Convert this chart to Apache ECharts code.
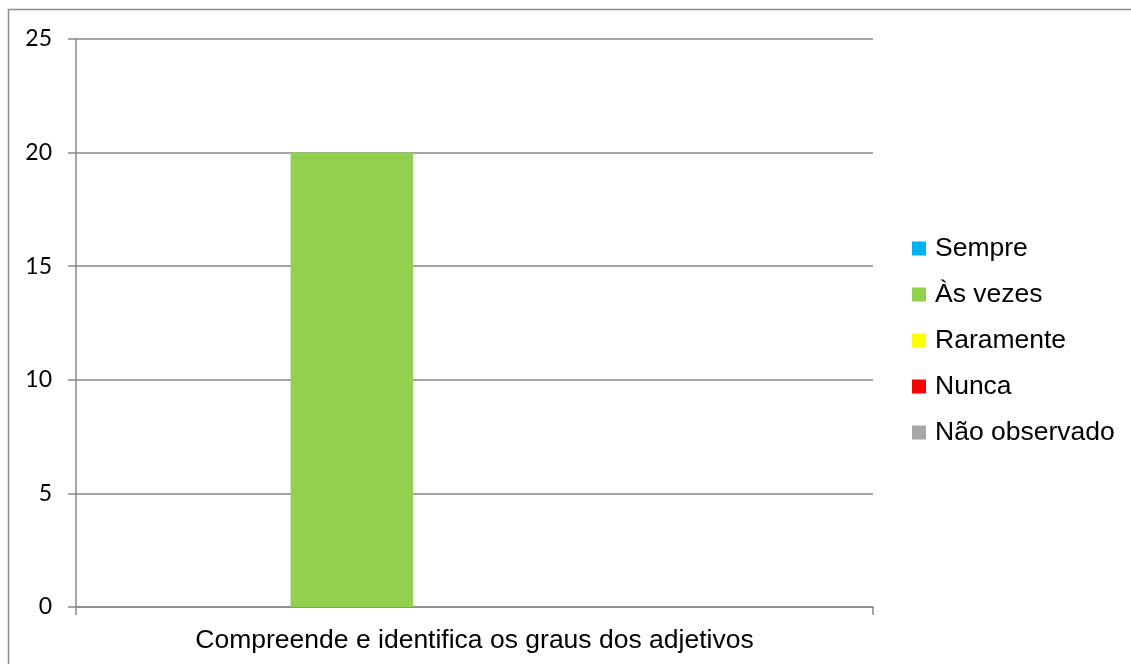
<!DOCTYPE html>
<html>
<head>
<meta charset="utf-8">
<script src="https://cdn.jsdelivr.net/npm/echarts@6/dist/echarts.min.js"></script>
<style>
  html, body { margin: 0; padding: 0; background: #ffffff; }
  #chart { width: 1131px; height: 664px; }
</style>
</head>
<body>
<div id="chart"></div>
<script>
// Categories and series values
const categories = ['Compreende e identifica os graus dos adjetivos'];
const seriesNames = ['Sempre', 'Às vezes', 'Raramente', 'Nunca', 'Não observado'];
const sempre = [0];
const asVezes = [20];
const raramente = [0];
const nunca = [0];
const naoObservado = [0];
const yTicks = { min: 0, max: 25, interval: 5 };

const colors = ['#00B0F0', '#92D050', '#FFFF00', '#FF0000', '#A6A6A6'];
const values = [sempre, asVezes, raramente, nunca, naoObservado];

const chart = echarts.init(document.getElementById('chart'), null, { renderer: 'canvas' });

const series = seriesNames.map((name, i) => ({
  name: name,
  type: 'bar',
  data: values[i],
  barGap: '0%',
  barCategoryGap: '23.08%',
  itemStyle: { color: colors[i] }
}));

chart.setOption({
  animation: false,
  backgroundColor: '#ffffff',
  color: colors,
  graphic: [{
    type: 'rect',
    shape: { x: 8.5, y: 9.5, width: 1200, height: 700 },
    style: { fill: 'none', stroke: '#8c8c8c', lineWidth: 1.5 },
    silent: true
  }],
  grid: { left: 76, top: 39, right: 258, bottom: 57, containLabel: false },
  legend: {
    orient: 'vertical',
    left: 912,
    top: 235,
    padding: 0,
    icon: 'rect',
    itemWidth: 14,
    itemHeight: 14,
    itemGap: 19,
    data: seriesNames,
    textStyle: {
      fontFamily: 'Liberation Sans, Arial, sans-serif',
      fontSize: 26.5,
      color: '#000000',
      lineHeight: 27,
      padding: [0, 0, 0, 4]
    }
  },
  xAxis: {
    type: 'category',
    data: categories,
    boundaryGap: true,
    axisLine: { show: true, lineStyle: { color: '#898989', width: 1.5 } },
    axisTick: { show: true, length: 8, lineStyle: { color: '#898989', width: 1.5 } },
    axisLabel: {
      margin: 20,
      fontFamily: 'Liberation Sans, Arial, sans-serif',
      fontSize: 26.5,
      color: '#000000'
    }
  },
  yAxis: {
    type: 'value',
    min: yTicks.min,
    max: yTicks.max,
    interval: yTicks.interval,
    axisLine: { show: true, lineStyle: { color: '#898989', width: 1.5 } },
    axisTick: { show: true, length: 8, lineStyle: { color: '#898989', width: 1.5 } },
    splitLine: { show: true, lineStyle: { color: '#898989', width: 1.5 } },
    axisLabel: {
      margin: 24,
      fontFamily: 'Lato, sans-serif',
      fontSize: 23,
      color: '#000000'
    }
  },
  series: series
});
</script>
</body>
</html>
